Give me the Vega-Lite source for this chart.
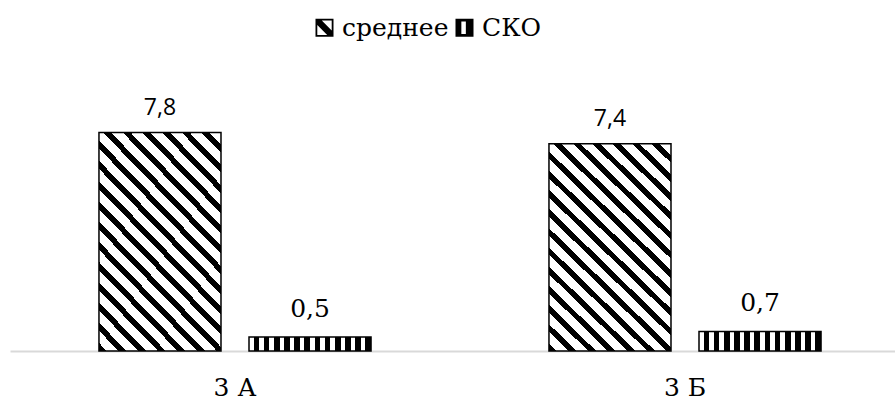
{
  "$schema": "https://vega.github.io/schema/vega-lite/v6.json",
  "width": 885,
  "height": 280,
  "autosize": {"type": "none"},
  "padding": {"left": 10, "top": 71, "right": 0, "bottom": 50},
  "background": "white",
  "config": {"view": {"stroke": null}},
  "data": {
    "values": [
      {"class": "3 А", "series": "среднее", "value": 7.8, "label": "7,8"},
      {"class": "3 А", "series": "СКО", "value": 0.5, "label": "0,5"},
      {"class": "3 Б", "series": "среднее", "value": 7.4, "label": "7,4"},
      {"class": "3 Б", "series": "СКО", "value": 0.7, "label": "0,7"}
    ]
  },
  "encoding": {
    "x": {
      "field": "class", "type": "nominal", "sort": ["3 А", "3 Б"],
      "scale": {"range": [0, 900], "paddingInner": 0, "paddingOuter": 0},
      "axis": {"title": null, "ticks": false, "tickSize": 0, "labelAngle": 0, "labelFont": "DejaVu Serif", "labelFontSize": 25, "labelColor": "black", "labelPadding": 24, "domainColor": "#d9d9d9", "domainWidth": 2, "grid": false}
    },
    "xOffset": {
      "field": "series", "type": "nominal", "sort": ["среднее", "СКО"],
      "scale": {"paddingInner": 0.1867, "paddingOuter": 0.593}
    },
    "y": {"field": "value", "type": "quantitative", "scale": {"domain": [0, 10]}, "axis": null}
  },
  "layer": [
    {
      "transform": [{"filter": "datum.series === 'среднее'"}],
      "mark": {"type": "bar", "strokeWidth": 1.5, "stroke": "black",
        "fill": {"gradient": "linear", "x1": 0, "y1": 1, "x2": 0.681, "y2": -0.184, "stops": [
          {"offset":0,"color":"black"},{"offset":0.0235,"color":"black"},{"offset":0.0235,"color":"white"},{"offset":0.0588,"color":"white"},
          {"offset":0.0588,"color":"black"},{"offset":0.0824,"color":"black"},{"offset":0.0824,"color":"white"},{"offset":0.1176,"color":"white"},
          {"offset":0.1176,"color":"black"},{"offset":0.1412,"color":"black"},{"offset":0.1412,"color":"white"},{"offset":0.1765,"color":"white"},
          {"offset":0.1765,"color":"black"},{"offset":0.2,"color":"black"},{"offset":0.2,"color":"white"},{"offset":0.2353,"color":"white"},
          {"offset":0.2353,"color":"black"},{"offset":0.2588,"color":"black"},{"offset":0.2588,"color":"white"},{"offset":0.2941,"color":"white"},
          {"offset":0.2941,"color":"black"},{"offset":0.3176,"color":"black"},{"offset":0.3176,"color":"white"},{"offset":0.3529,"color":"white"},
          {"offset":0.3529,"color":"black"},{"offset":0.3765,"color":"black"},{"offset":0.3765,"color":"white"},{"offset":0.4118,"color":"white"},
          {"offset":0.4118,"color":"black"},{"offset":0.4353,"color":"black"},{"offset":0.4353,"color":"white"},{"offset":0.4706,"color":"white"},
          {"offset":0.4706,"color":"black"},{"offset":0.4941,"color":"black"},{"offset":0.4941,"color":"white"},{"offset":0.5294,"color":"white"},
          {"offset":0.5294,"color":"black"},{"offset":0.5529,"color":"black"},{"offset":0.5529,"color":"white"},{"offset":0.5882,"color":"white"},
          {"offset":0.5882,"color":"black"},{"offset":0.6118,"color":"black"},{"offset":0.6118,"color":"white"},{"offset":0.6471,"color":"white"},
          {"offset":0.6471,"color":"black"},{"offset":0.6706,"color":"black"},{"offset":0.6706,"color":"white"},{"offset":0.7059,"color":"white"},
          {"offset":0.7059,"color":"black"},{"offset":0.7294,"color":"black"},{"offset":0.7294,"color":"white"},{"offset":0.7647,"color":"white"},
          {"offset":0.7647,"color":"black"},{"offset":0.7882,"color":"black"},{"offset":0.7882,"color":"white"},{"offset":0.8235,"color":"white"},
          {"offset":0.8235,"color":"black"},{"offset":0.8471,"color":"black"},{"offset":0.8471,"color":"white"},{"offset":0.8824,"color":"white"},
          {"offset":0.8824,"color":"black"},{"offset":0.9059,"color":"black"},{"offset":0.9059,"color":"white"},{"offset":0.9412,"color":"white"},
          {"offset":0.9412,"color":"black"},{"offset":0.9647,"color":"black"},{"offset":0.9647,"color":"white"},{"offset":1,"color":"white"}
        ]}
      },
      "encoding": {}
    },
    {
      "transform": [{"filter": "datum.series === 'СКО'"}],
      "mark": {"type": "bar", "strokeWidth": 1.5, "stroke": "black",
        "fill": {"gradient": "linear", "x1": 0, "y1": 0, "x2": 1, "y2": 0, "stops": [
          {"offset":0,"color":"white"},{"offset":0.0375,"color":"white"},{"offset":0.0375,"color":"black"},{"offset":0.0833,"color":"black"},
          {"offset":0.0833,"color":"white"},{"offset":0.1208,"color":"white"},{"offset":0.1208,"color":"black"},{"offset":0.1667,"color":"black"},
          {"offset":0.1667,"color":"white"},{"offset":0.2042,"color":"white"},{"offset":0.2042,"color":"black"},{"offset":0.25,"color":"black"},
          {"offset":0.25,"color":"white"},{"offset":0.2875,"color":"white"},{"offset":0.2875,"color":"black"},{"offset":0.3333,"color":"black"},
          {"offset":0.3333,"color":"white"},{"offset":0.3708,"color":"white"},{"offset":0.3708,"color":"black"},{"offset":0.4167,"color":"black"},
          {"offset":0.4167,"color":"white"},{"offset":0.4542,"color":"white"},{"offset":0.4542,"color":"black"},{"offset":0.5,"color":"black"},
          {"offset":0.5,"color":"white"},{"offset":0.5375,"color":"white"},{"offset":0.5375,"color":"black"},{"offset":0.5833,"color":"black"},
          {"offset":0.5833,"color":"white"},{"offset":0.6208,"color":"white"},{"offset":0.6208,"color":"black"},{"offset":0.6667,"color":"black"},
          {"offset":0.6667,"color":"white"},{"offset":0.7042,"color":"white"},{"offset":0.7042,"color":"black"},{"offset":0.75,"color":"black"},
          {"offset":0.75,"color":"white"},{"offset":0.7875,"color":"white"},{"offset":0.7875,"color":"black"},{"offset":0.8333,"color":"black"},
          {"offset":0.8333,"color":"white"},{"offset":0.8708,"color":"white"},{"offset":0.8708,"color":"black"},{"offset":0.9167,"color":"black"},
          {"offset":0.9167,"color":"white"},{"offset":0.9542,"color":"white"},{"offset":0.9542,"color":"black"},{"offset":1,"color":"black"}
        ]}
      },
      "encoding": {}
    },
    {
      "transform": [{"filter": "datum.series === 'среднее'"}],
      "mark": {"type": "text", "font": "Open Sans", "fontSize": 23, "baseline": "alphabetic", "dy": -18},
      "encoding": {
        "text": {"field": "label"},
        "color": {
          "field": "series", "type": "nominal",
          "scale": {"domain": ["среднее", "СКО"], "range": ["black", "black"]},
          "legend": {
            "orient": "none", "legendX": 302, "legendY": -56, "direction": "horizontal",
            "title": null, "padding": 0,
            "labelFont": "DejaVu Serif", "labelFontSize": 25, "labelColor": "black",
            "symbolType": "square", "symbolSize": 324, "symbolStrokeWidth": 0,
            "labelOffset": 5, "columnPadding": 3,
            "encode": {
              "symbols": {
                "update": {
                  "shape": [
                    {"test": "datum.value === 'СКО'", "value": "M-1,-1H1V1H-1Z M-0.35,-0.7V0.7H0.15V-0.7Z"},
                    {"value": "M-1,-1H1V1H-1Z M-0.8,-0.8V0.8H0.8V-0.8Z M-0.8,-0.8H-0.3L0.8,0.3V0.8H0.3L-0.8,-0.3Z"}
                  ],
                  "fill": {"value": "black"},
                  "strokeWidth": {"value": 0},
                  "opacity": {"value": 1}
                }
              }
            }
          }
        }
      }
    },
    {
      "transform": [{"filter": "datum.series === 'СКО'"}],
      "mark": {"type": "text", "font": "DejaVu Serif", "fontSize": 25, "baseline": "alphabetic", "dy": -20},
      "encoding": {
        "text": {"field": "label"},
        "color": {"field": "series", "type": "nominal"}
      }
    }
  ]
}
